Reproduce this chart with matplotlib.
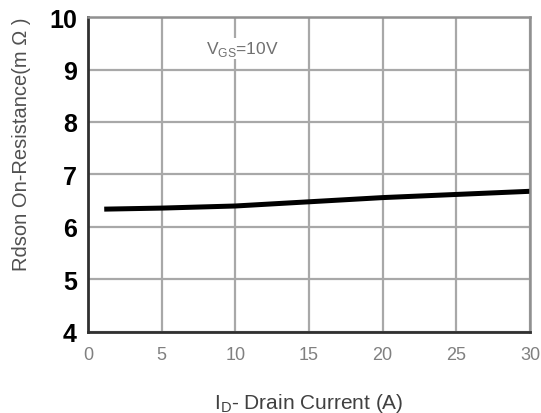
import numpy as np
import matplotlib.pyplot as plt

plt.rcParams['font.family'] = ['Liberation Sans', 'DejaVu Sans']

# Rdson vs drain current
drain_current = [1.1, 5, 10, 15, 20, 25, 30]
rdson = [6.34, 6.36, 6.40, 6.48, 6.56, 6.62, 6.68]

x_ticks = [0, 5, 10, 15, 20, 25, 30]
y_ticks = [4, 5, 6, 7, 8, 9, 10]

fig = plt.figure(figsize=(5.41, 4.14), dpi=100)
ax = fig.add_axes([0.1627, 0.1957, 0.817, 0.7608])

ax.plot(drain_current, rdson, color="black", linewidth=3.6, solid_capstyle="butt")

ax.set_xlim(0, 30)
ax.set_ylim(4, 10)
ax.set_xticks(x_ticks)
ax.set_yticks(y_ticks)
ax.grid(True, color="#a8a8a8", linewidth=1.6)
ax.set_axisbelow(True)

ax.tick_params(axis="both", length=0)
ax.tick_params(axis="x", labelsize=13, labelcolor="#808080", pad=10)
for lab in ax.get_yticklabels():
    lab.set_fontsize(18)
    lab.set_fontweight("bold")
ax.tick_params(axis="y", pad=8)

for side in ["left", "bottom"]:
    ax.spines[side].set_color("#303030")
    ax.spines[side].set_linewidth(2.0)
for side in ["top", "right"]:
    ax.spines[side].set_color("#909090")
    ax.spines[side].set_linewidth(1.8)

ax.set_xlabel(r"I$_\mathregular{D}$- Drain Current (A)", fontsize=15, color="#404040", labelpad=20)
ax.set_ylabel("Rdson On-Resistance(m Ω )", fontsize=14.5, color="#505050", labelpad=10)
ax.yaxis.set_label_coords(-0.13, 0.6)

ax.text(8.0, 9.4, r"V$_\mathregular{GS}$=10V", fontsize=12.5, color="#707070", va="center",
        bbox=dict(facecolor="white", edgecolor="none", pad=1))

fig.savefig("out.png", dpi=100)
